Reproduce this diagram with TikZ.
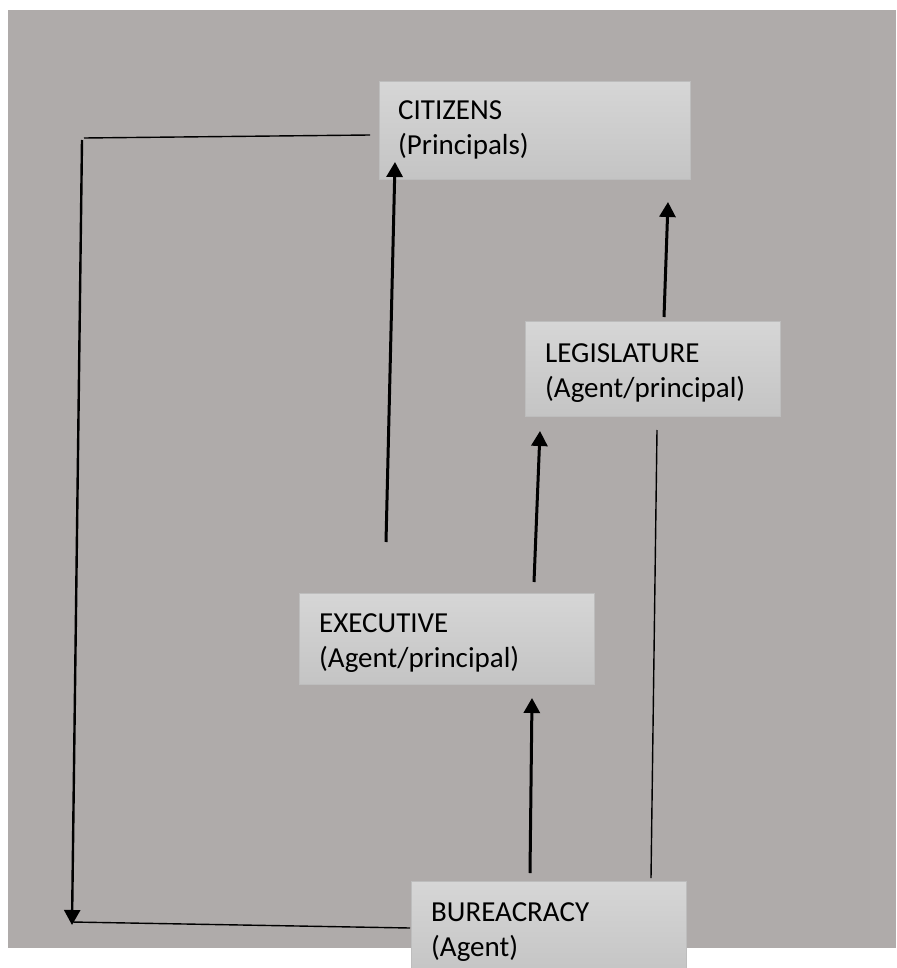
\documentclass[tikz,border=0pt]{standalone}
\usepackage{fontspec}
\setmainfont{Carlito}
\usetikzlibrary{arrows.meta}
\definecolor{bggray}{HTML}{AFABAA}
\definecolor{boxtop}{HTML}{D6D6D6}
\definecolor{boxbot}{HTML}{C4C4C4}
\definecolor{boxline}{HTML}{BDBDBD}
\begin{document}
\begin{tikzpicture}[x=1pt,y=-1pt,
  bx/.style={draw=boxline, line width=0.8pt, top color=boxtop, bottom color=boxbot,
             anchor=north west, inner sep=0pt, rectangle},
  txt/.style={anchor=north west, inner sep=0pt, align=left, text=black,
             font=\fontsize{29}{35}\selectfont},
  arr/.style={line width=3pt, -{Triangle[length=15pt,width=16pt]}},
  looparr/.style={line width=2.4pt, -{Triangle[length=15pt,width=16pt]}},
  thinline/.style={line width=1.4pt}]
\useasboundingbox (0,0) rectangle (896,968);
\clip (0,0) rectangle (896,968);
\fill[white] (0,0) rectangle (896,968);
\fill[bggray] (8,10) rectangle (896,948);

% boxes
\node[bx, minimum width=311pt, minimum height=98pt] (cit) at (379,81) {};
\node[bx, minimum width=255pt, minimum height=95pt] (leg) at (525,321) {};
\node[bx, minimum width=295pt, minimum height=91pt] (exe) at (299,593) {};
\node[bx, minimum width=275pt, minimum height=95pt] (bur) at (411,881) {};

% texts
\node[txt] (citT) at (398,100) {CITIZENS\\(Principals)};
\node[txt] (legT) at (545,343) {LEGISLATURE\\(Agent/principal)};
\node[txt] (exeT) at (319,613) {EXECUTIVE\\(Agent/principal)};
\node[txt] (burT) at (431,902) {BUREACRACY\\(Agent)};

% connector end points
\coordinate (e2cS) at (386,542);
\coordinate (e2cE) at (395,162);
\coordinate (l2cS) at (664,317);
\coordinate (l2cE) at (668,202);
\coordinate (e2lS) at (534,582);
\coordinate (e2lE) at (540,431);
\coordinate (b2eS) at (530,873);
\coordinate (b2eE) at (532,698);
\coordinate (b2lS) at (651,878);
\coordinate (b2lE) at (657,430);
\coordinate (cL) at (370,135);
\coordinate (tl) at (84,138);
\coordinate (vt) at (82,140);
\coordinate (vb) at (72,925);
\coordinate (bl) at (72,922);
\coordinate (bR) at (410,928);

\draw[arr] (e2cS) -- (e2cE);
\draw[arr] (l2cS) -- (l2cE);
\draw[arr] (e2lS) -- (e2lE);
\draw[arr] (b2eS) -- (b2eE);
\draw[thinline] (b2lS) -- (b2lE);
\draw[thinline] (cL) -- (tl);
\draw[looparr] (vt) -- (vb);
\draw[thinline] (bl) -- (bR);
\end{tikzpicture}
\end{document}
